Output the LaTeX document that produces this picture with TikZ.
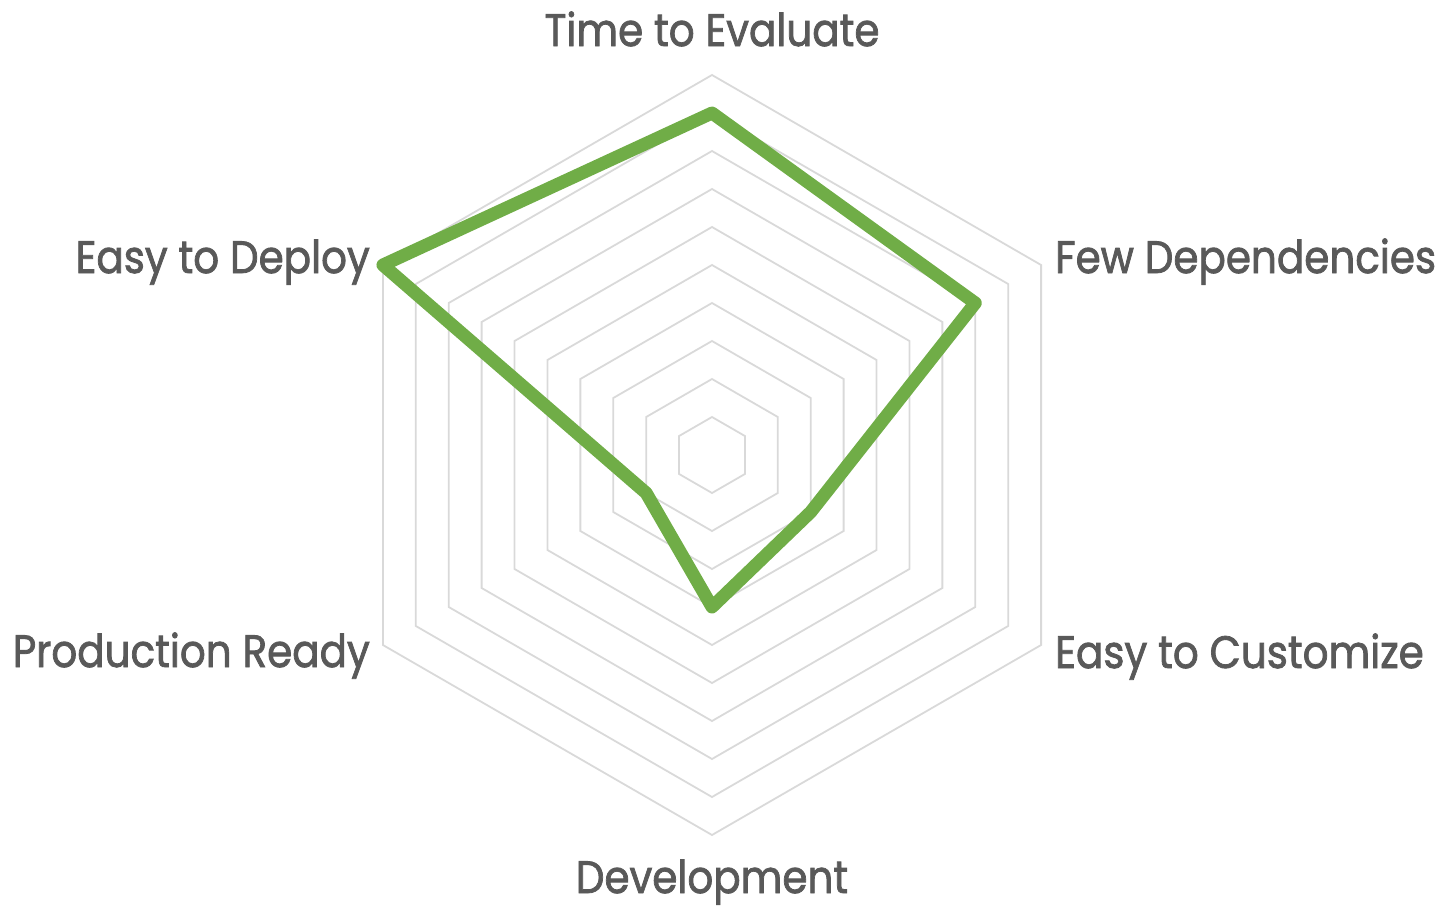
\documentclass[tikz,border=0pt]{standalone}
\usepackage{fontspec}
\setmainfont{Poppins}
\newfontfamily\labelfont{Poppins}[FakeBold=1.8]
\usetikzlibrary{calc}
\definecolor{ringgray}{HTML}{D9D9D9}
\definecolor{labelgray}{HTML}{595959}
\definecolor{seriesgreen}{HTML}{70AD47}
\newcommand{\lbltext}[1]{\scalebox{1}[1.12]{#1}}
\begin{document}
\begin{tikzpicture}[x=1pt,y=-1pt,
  ring/.style={draw=ringgray,line width=1.8pt,line join=miter},
  series/.style={draw=seriesgreen,line width=13pt,line join=round,line cap=round},
  axislabel/.style={text=labelgray,font=\labelfont\fontsize{40.5}{46}\selectfont,inner sep=0pt}]
\useasboundingbox (0,0) rectangle (1438,908);
\coordinate (c) at (712,455);
\foreach \k in {1,...,10}{
  \pgfmathsetmacro{\r}{38*\k}
  \draw[ring] ($(c)+(-90:\r)$) -- ($(c)+(-30:\r)$) -- ($(c)+(30:\r)$) -- ($(c)+(90:\r)$) -- ($(c)+(150:\r)$) -- ($(c)+(210:\r)$) -- cycle;
}
% data points
\coordinate (pTime) at ($(c)+(-90:342)$);
\coordinate (pFew) at ($(c)+(-30:304)$);
\coordinate (pCust) at ($(c)+(30:114)$);
\coordinate (pDev) at ($(c)+(90:152)$);
\coordinate (pProd) at ($(c)+(150:76)$);
\coordinate (pDeploy) at ($(c)+(210:380)$);
\draw[series] (pTime) -- (pFew) -- (pCust) -- (pDev) -- (pProd) -- (pDeploy) -- cycle;
% labels
\node[axislabel,anchor=base] (lTime) at (712,46) {\lbltext{Time to Evaluate}};
\node[axislabel,anchor=base west] (lFew) at (1055,273) {\lbltext{Few Dependencies}};
\node[axislabel,anchor=base west] (lCust) at (1055,668) {\lbltext{Easy to Customize}};
\node[axislabel,anchor=base] (lDev) at (712,893) {\lbltext{Development}};
\node[axislabel,anchor=base east] (lProd) at (370,667) {\lbltext{Production Ready}};
\node[axislabel,anchor=base east] (lDeploy) at (370,273) {\lbltext{Easy to Deploy}};
\end{tikzpicture}
\end{document}
